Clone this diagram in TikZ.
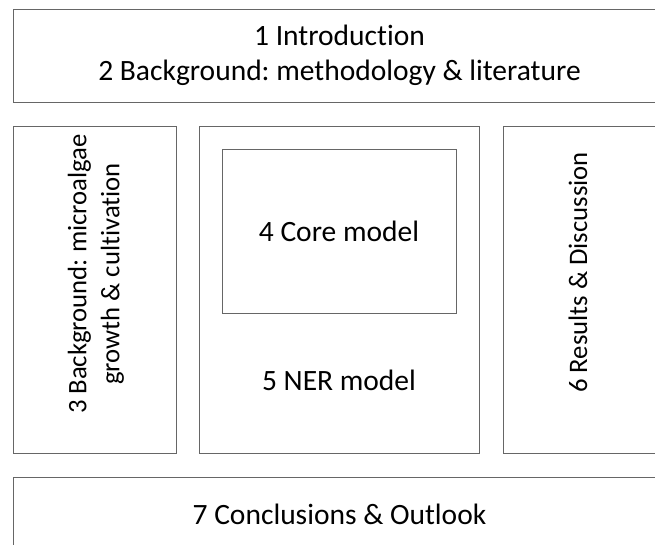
\documentclass[tikz,border=0pt]{standalone}
\usepackage{fontspec}
\setmainfont{Carlito}[Ligatures={NoCommon}]
\usetikzlibrary{positioning}

\tikzset{
   chapbox/.style={draw=gray!80!black,line width=0.8pt,fill=white,inner sep=0pt,
      align=center,font=\fontsize{29.5}{35}\selectfont},
   chaptext/.style={inner sep=0pt,align=center,font=\fontsize{29.5}{35}\selectfont},
   sidetext/.style={inner sep=0pt,align=center,rotate=90,font=\fontsize{26.7}{33}\selectfont}
}

\begin{document}
\frenchspacing
\begin{tikzpicture}[x=1pt,y=-1pt]
            \clip (0,0) rectangle (655,545);
            
            \node [chapbox,minimum width=653pt,minimum height=93pt] 
               (intro) at (339.5,55.5) {1 Introduction\\2 Background: methodology \& literature};
            
            \node [chapbox,minimum width=163pt,minimum height=327pt] 
               (algae) at (94.5,289.5) {};
            \node [sidetext] (algaetext) at (96,274) 
               {3 Background: microalgae\\growth \& cultivation};
            
            \node [chapbox,minimum width=280pt,minimum height=327pt] 
               (ner) at (339,289.5) {};
            \node [chapbox,minimum width=234pt,minimum height=164pt] 
               (core) at (339,231) {4 Core model};
            \node [chaptext] (nertext) at (339,380) {5 NER model};
            
            \node [chapbox,minimum width=163pt,minimum height=327pt] 
               (results) at (584.5,289.5) {};
            \node [sidetext] (resultstext) at (578,272.5) 
               {6 Results \& Discussion};
            
            \node [chapbox,minimum width=653pt,minimum height=93pt] 
               (concl) at (339.5,523.5) {};
            \node [chaptext] (concltext) at (339.5,514) {7 Conclusions \& Outlook};
         \end{tikzpicture}
\end{document}
